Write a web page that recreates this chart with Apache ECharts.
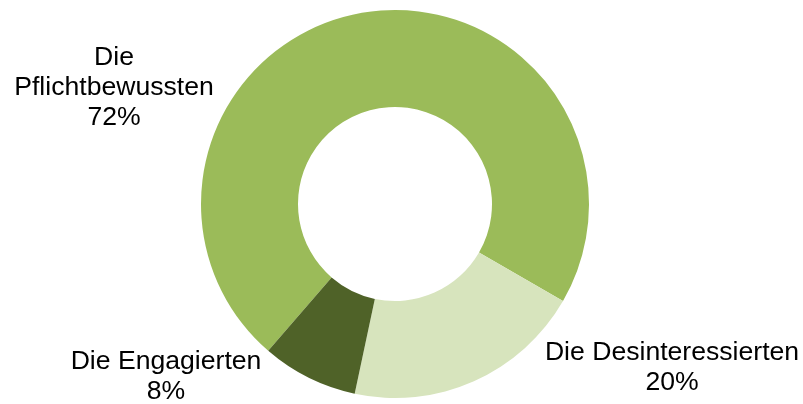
<!DOCTYPE html>
<html>
<head>
<meta charset="utf-8">
<script src="https://cdn.jsdelivr.net/npm/echarts@6/dist/echarts.min.js"></script>
<style>html,body{margin:0;padding:0;background:#fff;}#c{width:803px;height:404px;}</style>
</head>
<body>
<div id="c"></div>
<script>
var categories = ['Die Pflichtbewussten', 'Die Desinteressierten', 'Die Engagierten'];
var values = [72, 20, 8];
var colors = ['#9BBB59', '#D7E4BD', '#4F6228'];

var labelPos = [
  {x: 114, y: 88},
  {x: 672, y: 368},
  {x: 166, y: 377}
];
var labelText = ['Die\nPflichtbewussten', 'Die Desinteressierten', 'Die Engagierten'];

var chart = echarts.init(document.getElementById('c'), null, {renderer: 'canvas'});
chart.setOption({
  animation: false,
  backgroundColor: '#fff',
  series: [{
    type: 'pie',
    center: [395, 204],
    radius: [97, 194],
    startAngle: 229.2,
    clockwise: true,
    avoidLabelOverlap: false,
    itemStyle: {borderWidth: 0},
    emphasis: {disabled: true},
    label: {
      show: true,
      position: 'outside',
      color: '#000',
      fontFamily: 'Liberation Sans, Arial, sans-serif',
      fontSize: 26.6,
      lineHeight: 30,
      align: 'center',
      formatter: function (p) {
        return labelText[p.dataIndex] + '\n' + p.value + '%';
      }
    },
    labelLine: {show: false},
    labelLayout: function (params) {
      var p = labelPos[params.dataIndex];
      return {x: p.x, y: p.y, align: 'center', verticalAlign: 'middle'};
    },
    data: categories.map(function (c, i) {
      return {name: c, value: values[i], itemStyle: {color: colors[i]}};
    })
  }]
});
</script>
</body>
</html>
